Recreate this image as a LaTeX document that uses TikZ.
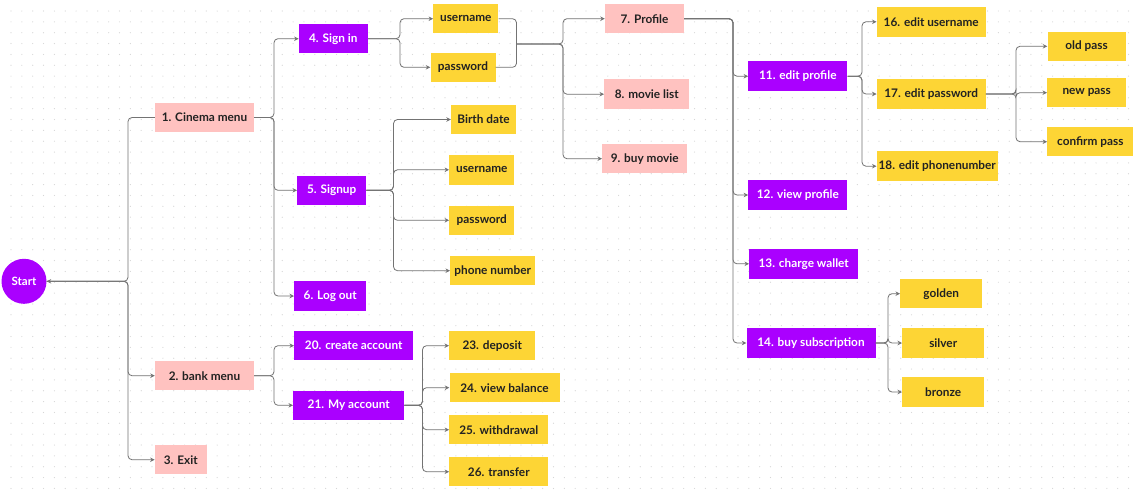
\documentclass[tikz,border=0pt]{standalone}
\usepackage{fontspec}
\setmainfont{Lato}
\usetikzlibrary{arrows.meta}
\definecolor{pinkc}{HTML}{FFC2C0}
\definecolor{purc}{HTML}{AA00FF}
\definecolor{yelc}{HTML}{FDD535}
\definecolor{txtc}{HTML}{222222}
\definecolor{linec}{HTML}{737373}
\definecolor{dotc}{HTML}{D6D6D6}
\begin{document}
\begin{tikzpicture}[x=1pt,y=-1pt,
  box/.style={rectangle, inner sep=0pt, minimum height=29.5pt, font=\fontsize{11.8}{13}\selectfont\bfseries},
  pinkbox/.style={box, fill=pinkc, text=txtc},
  purbox/.style={box, fill=purc, text=white},
  yelbox/.style={box, fill=yelc, text=txtc},
  conn/.style={draw=linec, line width=0.8pt, rounded corners=4pt},
  arr/.style={conn, -{Stealth[length=4.5pt,width=4.5pt]}}]
\useasboundingbox (0,0) rectangle (1137,491);
\fill[white] (0,0) rectangle (1137,491);
\foreach \i in {0,...,104}{\foreach \j in {0,...,44}{\fill[dotc] (10.85*\i+11,10.85*\j+11) circle (0.6pt);}}
% nodes
\node[circle, fill=purc, text=white, minimum size=45pt, inner sep=0pt, font=\fontsize{11.5}{13}\selectfont\bfseries] (start) at (24,281.3) {Start};
\node[pinkbox, minimum width=99pt] (cinema) at (204.5,117.5) {1. Cinema menu};
\node[pinkbox, minimum width=99pt] (bank) at (204.5,375.7) {2. bank menu};
\node[pinkbox, minimum width=52pt] (exit) at (180.8,459.7) {3. Exit};
\node[purbox, minimum width=69pt] (signin) at (333.3,38.7) {4. Sign in};
\node[purbox, minimum width=69pt] (signup) at (331.7,190.3) {5. Signup};
\node[purbox, minimum width=72pt] (logout) at (330.2,296) {6. Log out};
\node[yelbox, minimum width=65pt] (un1) at (465.8,18.7) {username};
\node[yelbox, minimum width=65pt] (pw1) at (463,67.3) {password};
\node[yelbox, minimum width=65pt] (birth) at (483.5,119.5) {Birth date};
\node[yelbox, minimum width=65pt] (un2) at (481.8,169.8) {username};
\node[yelbox, minimum width=65pt] (pw2) at (481.8,220.3) {password};
\node[yelbox, minimum width=85pt] (phone) at (492.7,270.7) {phone number};
\node[pinkbox, minimum width=79pt] (profile) at (644.5,18.7) {7. Profile};
\node[pinkbox, minimum width=85pt] (movies) at (646.7,94.2) {8. movie list};
\node[pinkbox, minimum width=85pt] (buy) at (644.7,158.7) {9. buy movie};
\node[purbox, minimum width=99pt] (editp) at (797.8,76.2) {11. edit profile};
\node[purbox, minimum width=99pt] (viewp) at (797.8,195) {12. view profile};
\node[purbox, minimum width=109pt] (wallet) at (803.7,263.8) {13. charge wallet};
\node[purbox, minimum width=129pt] (subs) at (811,343) {14. buy subscription};
\node[yelbox, minimum width=109pt] (eun) at (931.2,21.8) {16. edit username};
\node[yelbox, minimum width=109pt] (epw) at (931.2,94) {17. edit password};
\node[yelbox, minimum width=121pt] (eph) at (937.2,166.2) {18. edit phonenumber};
\node[yelbox, minimum width=78pt] (oldp) at (1086.5,46.3) {old pass};
\node[yelbox, minimum width=79pt] (newp) at (1086.7,92.7) {new pass};
\node[yelbox, minimum width=86pt] (confp) at (1090.3,141.7) {confirm pass};
\node[yelbox, minimum width=82pt] (golden) at (941.2,293.7) {golden};
\node[yelbox, minimum width=82pt] (silver) at (943.2,343) {silver};
\node[yelbox, minimum width=82pt] (bronze) at (943.2,392) {bronze};
\node[purbox, minimum width=119pt] (create) at (353.7,345.7) {20. create account};
\node[purbox, minimum width=111pt] (myacc) at (348.7,405.3) {21. My account};
\node[yelbox, minimum width=86pt] (dep) at (492.2,345.7) {23. deposit};
\node[yelbox, minimum width=110pt] (bal) at (504.5,387.7) {24. view balance};
\node[yelbox, minimum width=99pt] (wd) at (498.8,429.7) {25. withdrawal};
\node[yelbox, minimum width=99pt] (tr) at (498.8,471.7) {26. transfer};
% junction columns
\coordinate (j0) at (128,0);
\coordinate (j1) at (274,0);
\coordinate (j2) at (400,0);
\coordinate (jm) at (516.5,44);
\coordinate (j3) at (563,0);
\coordinate (j4) at (733,0);
\coordinate (j5) at (862,0);
\coordinate (j6) at (1016,0);
\coordinate (j7) at (888,0);
\coordinate (j8) at (393.5,0);
\coordinate (j9) at (274,0);
\coordinate (j10) at (422.5,0);
% connectors
\draw[arr] (cinema.west) -- (cinema.west -| j0) |- (start.east);
\foreach \c in {bank,exit}{\draw[arr] (start.east) -- (start.east -| j0) |- (\c.west);}
\foreach \c in {signin,signup,logout}{\draw[arr] (cinema.east) -- (cinema.east -| j1) |- (\c.west);}
\foreach \c in {un1,pw1}{\draw[arr] (signin.east) -- (signin.east -| j2) |- (\c.west);}
\draw[conn] (un1.east) -| (jm);
\draw[conn] (pw1.east) -| (jm);
\foreach \c in {profile,movies,buy}{\draw[arr] (jm) -- (jm -| j3) |- (\c.west);}
\foreach \c in {birth,un2,pw2,phone}{\draw[arr] (signup.east) -- (signup.east -| j8) |- (\c.west);}
\foreach \c in {editp,viewp,wallet,subs}{\draw[arr] (profile.east) -- (profile.east -| j4) |- (\c.west);}
\foreach \c in {eun,epw,eph}{\draw[arr] (editp.east) -- (editp.east -| j5) |- (\c.west);}
\foreach \c in {oldp,newp,confp}{\draw[arr] (epw.east) -- (epw.east -| j6) |- (\c.west);}
\foreach \c in {golden,silver,bronze}{\draw[arr] (subs.east) -- (subs.east -| j7) |- (\c.west);}
\foreach \c in {create,myacc}{\draw[arr] (bank.east) -- (bank.east -| j9) |- (\c.west);}
\foreach \c in {dep,bal,wd,tr}{\draw[arr] (myacc.east) -- (myacc.east -| j10) |- (\c.west);}
\end{tikzpicture}
\end{document}
